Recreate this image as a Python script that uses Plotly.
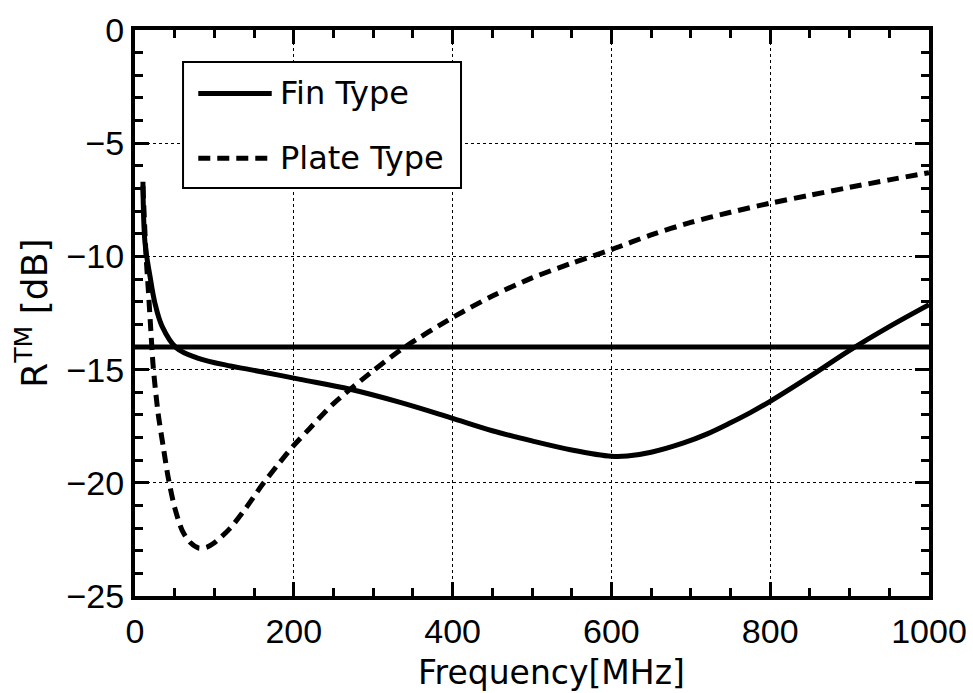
import plotly.graph_objects as go

# Reflection coefficient R^TM versus frequency for two absorber shapes
fin_freq = [10, 12.6, 19, 25, 34, 52, 78, 120, 145, 208, 271, 334, 397, 450, 500, 550,
            600, 620, 650, 690, 720, 750, 775, 800, 850, 900, 950, 1000]
fin_db = [-6.7, -9.4, -10.9, -12.05, -13.08, -14.04, -14.48, -14.84, -15.0, -15.43, -15.87, -16.45,
          -17.12, -17.7, -18.15, -18.55, -18.83, -18.82, -18.65, -18.25, -17.85, -17.35, -16.9,
          -16.4, -15.3, -14.15, -13.1, -12.13]

plate_freq = [10, 14, 17, 20, 23, 29, 36, 42, 50, 60, 70, 80, 90, 100, 120, 140, 160, 180, 200,
              220, 250, 300, 340, 400, 450, 500, 550, 600, 650, 700, 750, 800, 850, 900, 950, 1000]
plate_db = [-6.9, -10.0, -11.6, -13.3, -14.9, -16.9, -18.5, -19.8, -21.1, -22.15, -22.65, -22.88,
            -22.85, -22.65, -22.0, -21.1, -20.1, -19.2, -18.35, -17.6, -16.5, -15.05, -14.0, -12.7,
            -11.75, -10.95, -10.3, -9.7, -9.05, -8.5, -8.05, -7.65, -7.3, -6.95, -6.62, -6.3]

threshold_db = -14
legend_names = ["Fin Type", "Plate Type"]

TICK_FONT = "Liberation Sans, Arial, sans-serif"
TEXT_FONT = "DejaVu Sans, sans-serif"
PLATE_DASH = "12px,7px"

fig = go.Figure()
fig.add_trace(go.Scatter(x=fin_freq, y=fin_db, mode="lines", name=legend_names[0],
                         line=dict(color="black", width=5, shape="spline", smoothing=1.0),
                         showlegend=False))
fig.add_trace(go.Scatter(x=plate_freq, y=plate_db, mode="lines", name=legend_names[1],
                         line=dict(color="black", width=5, dash=PLATE_DASH, shape="spline", smoothing=0.8),
                         showlegend=False))
fig.add_trace(go.Scatter(x=[0, 1000], y=[threshold_db, threshold_db], mode="lines",
                         line=dict(color="black", width=5), showlegend=False, hoverinfo="skip"))

# Boxed legend drawn in paper coordinates
lx0, lx1, ly0, ly1 = 0.0605, 0.4106, 0.7208, 0.9435
fig.add_shape(type="rect", xref="paper", yref="paper", x0=lx0, x1=lx1, y0=ly0, y1=ly1,
              line=dict(color="black", width=2), fillcolor="white", layer="above")
entry_y = [0.8880, 0.7733]
entry_dash = ["solid", PLATE_DASH]
for name, yy, dsh in zip(legend_names, entry_y, entry_dash):
    fig.add_shape(type="line", xref="paper", yref="paper", x0=0.0797, x1=0.1722, y0=yy, y1=yy,
                  line=dict(color="black", width=5, dash=dsh), layer="above")
    fig.add_annotation(xref="paper", yref="paper", x=0.1832, y=yy, text=name, showarrow=False,
                       xanchor="left", yanchor="middle", xshift=-2,
                       font=dict(size=32, color="black", family=TEXT_FONT))

# Axis titles
fig.add_annotation(xref="paper", yref="paper", x=0.525, y=-0.136, text="Frequency[MHz]",
                   showarrow=False, xanchor="center", yanchor="middle",
                   font=dict(size=33, color="black", family=TEXT_FONT))
fig.add_annotation(xref="paper", yref="paper", x=-0.13, y=0.5, text="R<sup>TM</sup> [dB]",
                   showarrow=False, xanchor="center", yanchor="middle", textangle=-90,
                   font=dict(size=36, color="black", family=TEXT_FONT))

axis_common = dict(
    showline=True, linecolor="black", linewidth=4, mirror="allticks",
    ticks="inside", ticklen=14, tickwidth=3, tickcolor="black",
    showgrid=True, gridcolor="black", gridwidth=1, griddash="3px,3px",
    zeroline=False, automargin=False,
    tickfont=dict(size=34, color="black", family=TICK_FONT),
)

fig.update_xaxes(range=[0, 1000], dtick=200, tick0=0,
                 minor=dict(dtick=50, ticks="inside", ticklen=8, tickwidth=3, tickcolor="black", showgrid=False),
                 ticklabelstandoff=2, **axis_common)
fig.update_yaxes(range=[-25, 0], dtick=5, tick0=0,
                 minor=dict(dtick=1, ticks="inside", ticklen=8, tickwidth=3, tickcolor="black", showgrid=False),
                 **axis_common)

fig.update_layout(
    width=973, height=693,
    margin=dict(l=135, r=44, t=30, b=97),
    paper_bgcolor="white", plot_bgcolor="white",
    font=dict(family=TICK_FONT, color="black"),
)

fig.write_html("out.html")
